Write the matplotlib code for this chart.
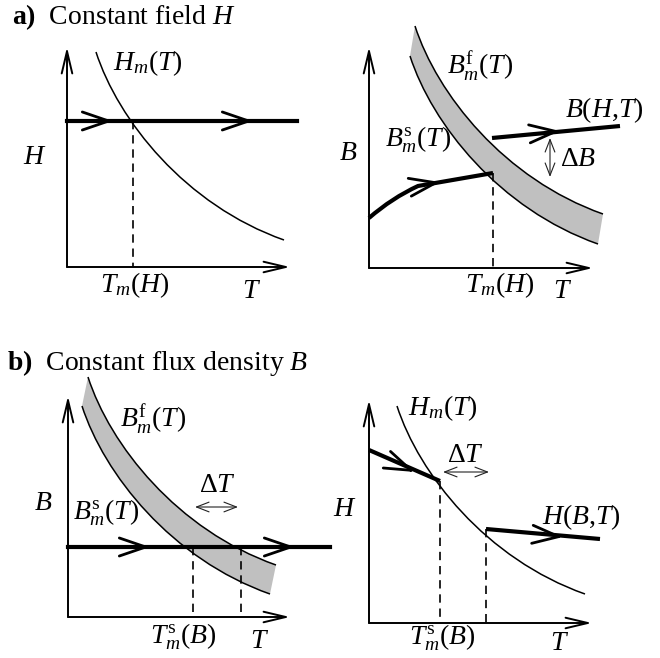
"""Schematic: melting curves at constant field H and constant flux density B."""
import matplotlib
matplotlib.use("Agg")
import matplotlib.pyplot as plt
from matplotlib.path import Path
from matplotlib.patches import PathPatch
import numpy as np

plt.rcParams["font.family"] = "Liberation Serif"
plt.rcParams["mathtext.fontset"] = "custom"
plt.rcParams["mathtext.rm"] = "Liberation Serif"
plt.rcParams["mathtext.it"] = "Liberation Serif:italic"
plt.rcParams["mathtext.bf"] = "Liberation Serif:bold"

W, H = 660, 658          # canvas in pixels, all coordinates below are px (y down)
FS = 20

# shape of the melting curve (cubic Bezier, offsets from its start point)
curve_shape = np.array([[0, 0], [22, 68], [89, 153], [188, 188]])

# axes: (x0, y0, x tip, y tip)
axes_xy = [(67, 267, 290, 47), (369, 268, 593, 47),
           (68, 617, 290, 396), (369, 623, 592, 400)]

# a) left: H_m(T), constant H path
aL_Hm_start = (96, 52)
aL_H_level = 121
aL_H_span = (67, 297)
aL_arrow_tips = [113, 253]
aL_Tm = 133

# a) right: B_m^f / B_m^s band, B(H,T) path
aR_Bf_start = (415, 26)
aR_Bs_start = (410, 56)
aR_low_path = [(369, 218), (392, 198), (418, 186), (493, 173)]
aR_high_path = [(492, 138), (620, 126)]
aR_low_arrow = (440, 182)
aR_high_arrow = (560, 131)
aR_Tm = 493
aR_dB = (550, 138, 177)

# b) left: band, constant B path
bL_Bf_start = (88, 377)
bL_Bs_start = (82, 406)
bL_B_level = 547
bL_B_span = (68, 330)
bL_arrow_tips = [150, 295]
bL_Ts = [193, 241]
bL_dT = (195, 238, 507)

# b) right: H_m(T), H(B,T) path
bR_Hm_start = (397, 406)
bR_path1 = [(369, 450), (440, 481)]
bR_path2 = [(486, 529), (600, 539)]
bR_arrow_tips = [(415, 472), (563, 537)]
bR_Ts = [440, 486]
bR_dT = (443, 489, 472)

labels = [
    (12, 17, r"$\mathbf{a)}$  Constant field $H$", "left"),
    (7, 363, r"$\mathbf{b)}$  Constant flux density $B$", "left"),
    (113, 63, r"$H_m(T)$", "left"),
    (35, 157, r"$H$", "center"),
    (135, 285, r"$T_m(H)$", "center"),
    (252, 292, r"$T$", "center"),
    (447, 67, r"$B_m^{\mathrm{f}}(T)$", "left"),
    (565, 110, r"$B(H{,}T)$", "left"),
    (385, 140, r"$B_m^{\mathrm{s}}(T)$", "left"),
    (348, 153, r"$B$", "center"),
    (560, 159, r"$\Delta B$", "left"),
    (500, 285, r"$T_m(H)$", "center"),
    (563, 292, r"$T$", "center"),
    (120, 420, r"$B_m^{\mathrm{f}}(T)$", "left"),
    (73, 513, r"$B_m^{\mathrm{s}}(T)$", "left"),
    (43, 503, r"$B$", "center"),
    (217, 485, r"$\Delta T$", "center"),
    (183, 637, r"$T_m^{\mathrm{s}}(B)$", "center"),
    (260, 641, r"$T$", "center"),
    (408, 408, r"$H_m(T)$", "left"),
    (465, 456, r"$\Delta T$", "center"),
    (542, 517, r"$H(B{,}T)$", "left"),
    (345, 509, r"$H$", "center"),
    (442, 638, r"$T_m^{\mathrm{s}}(B)$", "center"),
    (560, 644, r"$T$", "center"),
]


def arrow(ax, p0, p1, style, lw, color="black"):
    ax.annotate("", xy=p1, xytext=p0,
                arrowprops=dict(arrowstyle=style, lw=lw, color=color,
                                shrinkA=0, shrinkB=0, mutation_scale=1))


def chevron(ax, tip, seg):
    d = np.subtract(seg[-1], seg[0]).astype(float)
    d /= np.hypot(*d)
    arrow(ax, tuple(np.asarray(tip) - 6 * d), tip,
          "->,head_length=19,head_width=6.5", 2.0)


def bezier(start):
    return curve_shape + np.asarray(start)


def draw_curve(ax, start, lw=1.1):
    path = Path(bezier(start), [Path.MOVETO, Path.CURVE4, Path.CURVE4, Path.CURVE4])
    ax.add_patch(PathPatch(path, fc="none", ec="black", lw=lw))


def draw_band(ax, up_start, lo_start):
    up = bezier(up_start)
    lo = bezier(lo_start)[::-1]
    verts = np.vstack([up, lo, up[:1]])
    codes = ([Path.MOVETO] + [Path.CURVE4] * 3 + [Path.LINETO] +
             [Path.CURVE4] * 3 + [Path.CLOSEPOLY])
    ax.add_patch(PathPatch(Path(verts, codes), fc="#c0c0c0", ec="none"))
    draw_curve(ax, up_start)
    draw_curve(ax, lo_start)


def dashed(ax, x, y_top, y_bot):
    ax.plot([x, x], [y_top, y_bot], color="black", lw=1.2, ls=(0, (5, 3.5)))


def double_arrow(ax, p0, p1):
    arrow(ax, p0, p1, "<->,head_length=9,head_width=3.5", 0.8, "#222222")


fig = plt.figure(figsize=(W / 100, H / 100), dpi=100)
ax = fig.add_axes([0, 0, 1, 1])
ax.set_xlim(0, W)
ax.set_ylim(H, 0)
ax.axis("off")

# coordinate axes
for x0, y0, xt, yt in axes_xy:
    arrow(ax, (x0, y0), (xt, y0), "->,head_length=16,head_width=3.8", 1.4)
    arrow(ax, (x0, y0), (x0, yt), "->,head_length=16,head_width=3.8", 1.4)

# a) left
draw_curve(ax, aL_Hm_start)
dashed(ax, aL_Tm, aL_H_level, axes_xy[0][1])
ax.plot(aL_H_span, [aL_H_level] * 2, color="black", lw=3)
for xt in aL_arrow_tips:
    chevron(ax, (xt, aL_H_level), [(0, 0), (1, 0)])

# a) right
draw_band(ax, aR_Bf_start, aR_Bs_start)
dashed(ax, aR_Tm, aR_low_path[-1][1], axes_xy[1][1])
low = Path(aR_low_path, [Path.MOVETO, Path.CURVE3, Path.CURVE3, Path.LINETO])
ax.add_patch(PathPatch(low, fc="none", ec="black", lw=3))
ax.plot(*zip(*aR_high_path), color="black", lw=3, solid_capstyle="butt")
chevron(ax, aR_low_arrow, aR_low_path[2:])
chevron(ax, aR_high_arrow, aR_high_path)
double_arrow(ax, (aR_dB[0], aR_dB[1]), (aR_dB[0], aR_dB[2]))

# b) left
draw_band(ax, bL_Bf_start, bL_Bs_start)
for xs in bL_Ts:
    dashed(ax, xs, bL_B_level, axes_xy[2][1])
ax.plot(bL_B_span, [bL_B_level] * 2, color="black", lw=3)
for xt in bL_arrow_tips:
    chevron(ax, (xt, bL_B_level), [(0, 0), (1, 0)])
double_arrow(ax, (bL_dT[0], bL_dT[2]), (bL_dT[1], bL_dT[2]))

# b) right
draw_curve(ax, bR_Hm_start)
dashed(ax, bR_Ts[0], bR_path1[-1][1], axes_xy[3][1])
dashed(ax, bR_Ts[1], bR_path2[0][1], axes_xy[3][1])
for seg, tip in zip([bR_path1, bR_path2], bR_arrow_tips):
    ax.plot(*zip(*seg), color="black", lw=3, solid_capstyle="butt")
    chevron(ax, tip, seg)
double_arrow(ax, (bR_dT[0], bR_dT[2]), (bR_dT[1], bR_dT[2]))

for x, y, s, ha in labels:
    ax.text(x, y, s, fontsize=FS, ha=ha, va="center")

fig.savefig("out.png", dpi=100)
